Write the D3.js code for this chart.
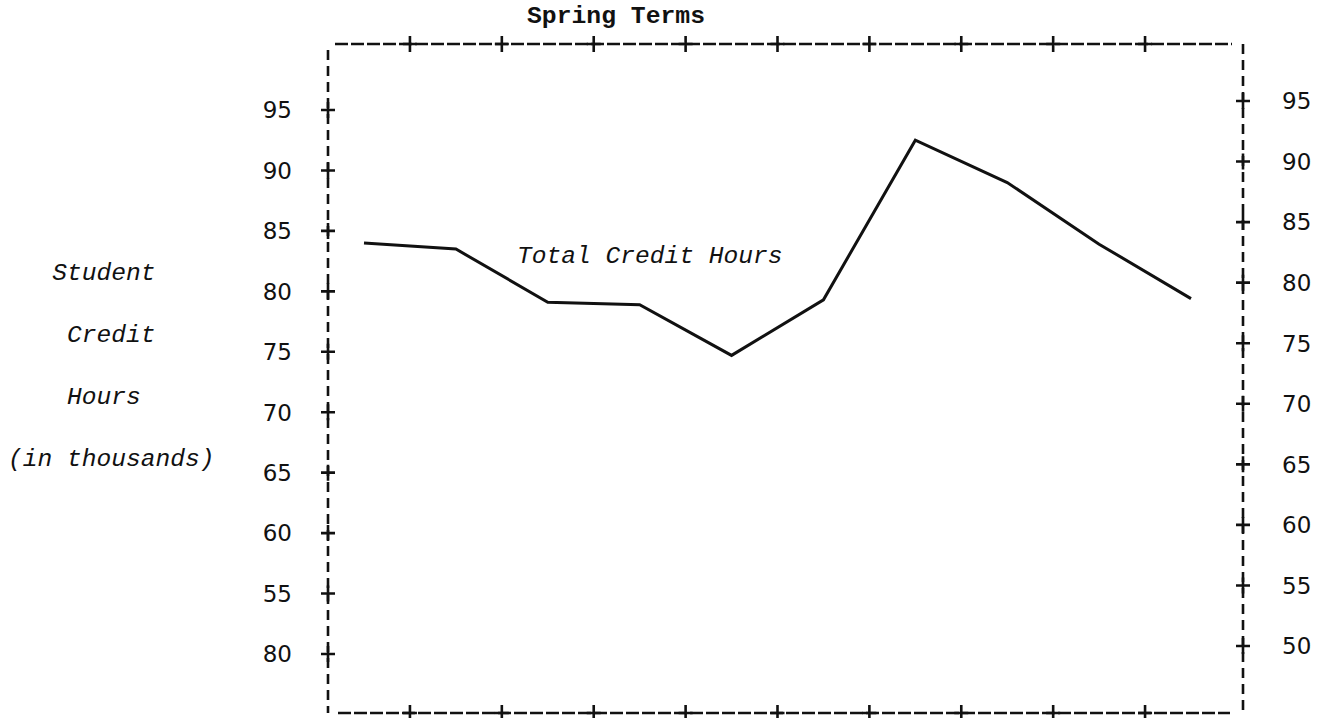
<!DOCTYPE html>
<html>
<head>
<meta charset="utf-8">
<script src="https://cdn.jsdelivr.net/npm/d3@7"></script>
<style>
  html, body { margin: 0; padding: 0; background: #fff; }
  svg { display: block; }
  .num { font-family: "DejaVu Sans", sans-serif; font-size: 23px; fill: #111; }
  .type { font-family: "Liberation Mono", "Courier New", monospace; font-size: 24.5px; fill: #111; }
</style>
</head>
<body>
<svg id="chart" width="1326" height="718"></svg>
<script>
// Spring terms, in order (unlabelled on the chart)
const terms = ["S1", "S2", "S3", "S4", "S5", "S6", "S7", "S8", "S9", "S10"];
// Total student credit hours, in thousands
const creditHours = [84.0, 83.5, 79.1, 78.9, 74.7, 79.3, 92.5, 89.0, 83.9, 79.4];

// Tick values and their printed labels
const leftTicks = [95, 90, 85, 80, 75, 70, 65, 60, 55, 50];
const leftLabels = ["95", "90", "85", "80", "75", "70", "65", "60", "55", "80"];
const rightTicks = [95, 90, 85, 80, 75, 70, 65, 60, 55, 50];
const rightLabels = ["95", "90", "85", "80", "75", "70", "65", "60", "55", "50"];

const title = "Spring Terms";
const yTitle = ["Student", "Credit", "Hours", "(in thousands)"];
const yTitleIndent = [3, 4, 4, 0];
const seriesLabel = "Total Credit Hours";

const svg = d3.select("#chart");

const x = d3.scalePoint().domain(terms).range([364, 1191]);
const yLeft = d3.scaleLinear().domain([50, 95]).range([654, 110]);
const yRight = d3.scaleLinear().domain([50, 95]).range([646, 101]);

const frame = { left: 328, right: 1243, top: 44, bottom: 713 };

const ink = "#111";

// Dashed frame
svg.append("line")
  .attr("x1", frame.left).attr("x2", frame.left)
  .attr("y1", frame.top + 6).attr("y2", frame.bottom)
  .attr("stroke", ink).attr("stroke-width", 2.6).attr("stroke-dasharray", "10,6");
svg.append("line")
  .attr("x1", frame.right).attr("x2", frame.right)
  .attr("y1", frame.top).attr("y2", frame.bottom)
  .attr("stroke", ink).attr("stroke-width", 2.6).attr("stroke-dasharray", "10,6");
svg.append("line")
  .attr("x1", frame.left + 7).attr("x2", frame.right - 11)
  .attr("y1", frame.top).attr("y2", frame.top)
  .attr("stroke", ink).attr("stroke-width", 2.6).attr("stroke-dasharray", "13,3");
svg.append("line")
  .attr("x1", frame.left + 10).attr("x2", frame.right - 13)
  .attr("y1", frame.bottom).attr("y2", frame.bottom)
  .attr("stroke", ink).attr("stroke-width", 2.6).attr("stroke-dasharray", "13,3");

// Plus-shaped tick marks
function plus(g, cx, cy) {
  g.append("path")
    .attr("d", `M${cx - 7},${cy}H${cx + 7}M${cx},${cy - 8}V${cy + 8}`)
    .attr("stroke", ink).attr("stroke-width", 2.6).attr("fill", "none");
}

const ticksG = svg.append("g");
// Term separators on top and bottom edges, midway between terms
const step = x.step();
terms.slice(1).forEach(t => {
  const cx = x(t) - step / 2;
  plus(ticksG, cx, frame.top);
  plus(ticksG, cx, frame.bottom);
});

// Left scale
leftTicks.forEach((v, i) => {
  plus(ticksG, frame.left, yLeft(v));
  svg.append("text").attr("class", "num")
    .attr("x", 292).attr("y", yLeft(v))
    .attr("dy", "0.36em").attr("text-anchor", "end")
    .text(leftLabels[i]);
});

// Right scale
rightTicks.forEach((v, i) => {
  plus(ticksG, frame.right, yRight(v));
  svg.append("text").attr("class", "num")
    .attr("x", 1282).attr("y", yRight(v))
    .attr("dy", "0.36em").attr("text-anchor", "start")
    .text(rightLabels[i]);
});

// Title
svg.append("text").attr("class", "type")
  .attr("x", 527).attr("y", 23)
  .attr("font-weight", "bold")
  .attr("textLength", 178).attr("lengthAdjust", "spacingAndGlyphs")
  .text(title);

// Y axis title, one word per line
const pitch = 14.75;
yTitle.forEach((s, i) => {
  svg.append("text").attr("class", "type")
    .attr("x", 8 + yTitleIndent[i] * pitch)
    .attr("y", 280 + i * 62)
    .attr("font-style", "italic")
    .attr("textLength", s.length * pitch).attr("lengthAdjust", "spacingAndGlyphs")
    .text(s);
});

// Series line
const line = d3.line()
  .x((d, i) => x(terms[i]))
  .y(d => yLeft(d));

svg.append("path")
  .datum(creditHours)
  .attr("d", line)
  .attr("fill", "none")
  .attr("stroke", ink)
  .attr("stroke-width", 3)
  .attr("stroke-linejoin", "miter");

// Series label
svg.append("text").attr("class", "type")
  .attr("x", 517).attr("y", 263)
  .attr("font-style", "italic")
  .attr("textLength", seriesLabel.length * pitch).attr("lengthAdjust", "spacingAndGlyphs")
  .text(seriesLabel);
</script>
</body>
</html>
